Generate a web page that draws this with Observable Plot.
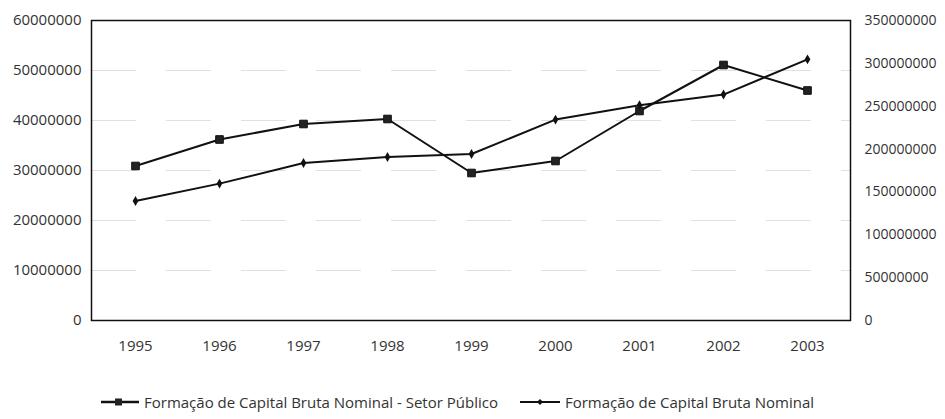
<!DOCTYPE html>
<html>
<head>
<meta charset="utf-8">
<script src="https://cdn.jsdelivr.net/npm/d3@7"></script>
<script src="https://cdn.jsdelivr.net/npm/@observablehq/plot@0.6"></script>
<style>
  body { margin: 0; background: #fff; font-family: "Open Sans", sans-serif; }
  #chart svg { display: block; }
  #legend { display: flex; align-items: center; margin-left: 101px; margin-top: 27px; font-size: 15px; color: #333; white-space: nowrap; }
  #legend .item { display: flex; align-items: center; margin-right: 22px; }
  #legend svg { margin-right: 3px; }
</style>
</head>
<body>
<div id="chart"></div>
<div id="legend"></div>
<script>
const years = ["1995", "1996", "1997", "1998", "1999", "2000", "2001", "2002", "2003"];
const publicSector = [30900000, 36200000, 39300000, 40300000, 29500000, 31900000, 41900000, 51100000, 46000000];
const total = [139500000, 159700000, 183700000, 190700000, 194200000, 234400000, 251200000, 263600000, 304700000];
const leftTicks = [0, 10000000, 20000000, 30000000, 40000000, 50000000, 60000000];
const rightTicks = [0, 50000000, 100000000, 150000000, 200000000, 250000000, 300000000, 350000000];
const seriesNames = ["Formação de Capital Bruta Nominal - Setor Público", "Formação de Capital Bruta Nominal"];

const leftMax = 60000000, rightMax = 350000000;
const toLeft = v => v * leftMax / rightMax;
const fmt = d3.format("d");

const pub = years.map((y, i) => ({year: y, value: publicSector[i]}));
const tot = years.map((y, i) => ({year: y, value: toLeft(total[i])}));

const chart = Plot.plot({
  width: 945,
  height: 365,
  marginTop: 20,
  marginBottom: 45,
  marginLeft: 91,
  marginRight: 95,
  style: {fontFamily: "Open Sans, sans-serif", fontSize: "15px", color: "#333", background: "#fff"},
  x: {type: "point", domain: years, padding: 0.5},
  y: {domain: [0, leftMax]},
  marks: [
    Plot.gridY(leftTicks.filter(t => t > 0 && t < leftMax), {stroke: "#999", strokeOpacity: 0.3, strokeDasharray: "45 30"}),
    Plot.frame({stroke: "#111", strokeWidth: 1.5}),
    Plot.line(pub, {x: "year", y: "value", stroke: "#111", strokeWidth: 2}),
    Plot.dot(pub, {x: "year", y: "value", symbol: "square", r: 4.3, fill: "#222", stroke: "#111", strokeWidth: 1}),
    Plot.line(tot, {x: "year", y: "value", stroke: "#111", strokeWidth: 2}),
    Plot.dot(tot, {x: "year", y: "value", symbol: "diamond", r: 3, fill: "#111"}),
    Plot.axisX({tickSize: 0, tickPadding: 20, label: null}),
    Plot.axisY(leftTicks, {anchor: "left", tickSize: 0, tickPadding: 10, tickFormat: fmt, label: null}),
    Plot.axisY(rightTicks.map(toLeft), {anchor: "right", tickSize: 0, tickPadding: 14, fontSize: 14, tickFormat: d => fmt(Math.round(d * rightMax / leftMax)), label: null})
  ]
});
document.getElementById("chart").appendChild(chart);

const legend = document.getElementById("legend");
const swatches = [
  `<svg width="40" height="12"><line x1="0" y1="6" x2="38" y2="6" stroke="#111" stroke-width="2.5"/><rect x="14" y="2.5" width="7" height="7" fill="#222"/></svg>`,
  `<svg width="42" height="12"><line x1="0" y1="6" x2="40" y2="6" stroke="#111" stroke-width="2"/><path d="M20,3 L23,6 L20,9 L17,6 Z" fill="#111"/></svg>`
];
seriesNames.forEach((name, i) => {
  const item = document.createElement("div");
  item.className = "item";
  item.innerHTML = swatches[i] + `<span>${name}</span>`;
  legend.appendChild(item);
});
</script>
</body>
</html>
